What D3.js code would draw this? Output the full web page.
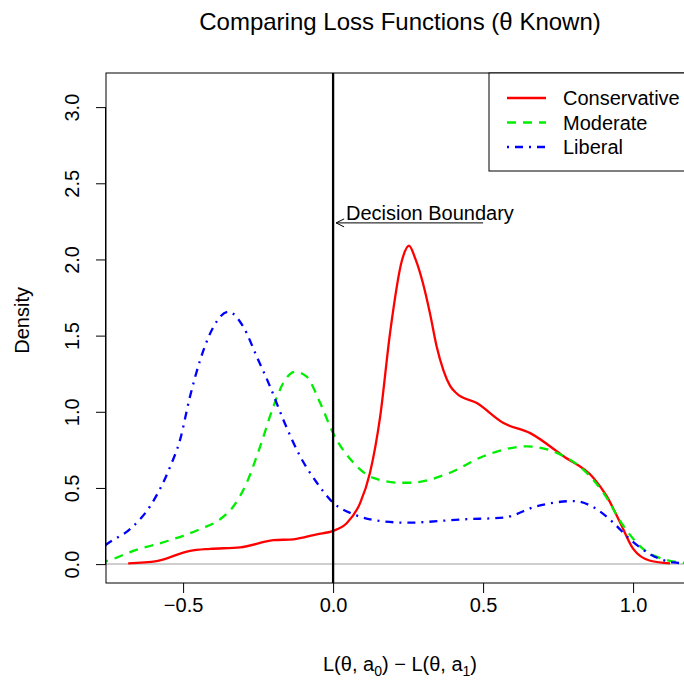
<!DOCTYPE html>
<html>
<head>
<meta charset="utf-8">
<script src="https://cdn.jsdelivr.net/npm/d3@7"></script>
<style>
  body { margin: 0; background: #fff; }
  text { font-family: "Liberation Sans", Arial, sans-serif; }
</style>
</head>
<body>
<div id="my_dataviz"></div>
<script>
// density curves: [x, density]
var conservative = [[-0.683,0.005],[-0.588,0.02],[-0.477,0.087],[-0.41,0.10],[-0.31,0.11],[-0.199,0.157],
  [-0.132,0.163],[-0.054,0.196],[0.0,0.218],[0.046,0.27],[0.09,0.40],[0.123,0.6],[0.157,0.97],[0.19,1.52],
  [0.229,1.99],[0.253,2.09],[0.275,2.0],[0.3,1.84],[0.323,1.645],[0.345,1.43],[0.368,1.27],[0.39,1.17],[0.412,1.12],
  [0.479,1.057],[0.568,0.926],[0.657,0.86],[0.768,0.708],[0.868,0.566],[0.912,0.446],[0.957,0.272],
  [1.001,0.098],[1.057,0.022],[1.123,0.005]]
var moderate = [[-0.78,0.01],[-0.755,0.02],[-0.666,0.087],[-0.555,0.15],[-0.443,0.23],[-0.377,0.294],[-0.332,0.38],
  [-0.288,0.534],[-0.243,0.773],[-0.199,1.034],[-0.166,1.19],[-0.127,1.263],[-0.088,1.23],[-0.043,1.057],
  [0.0,0.86],[0.068,0.665],[0.134,0.566],[0.223,0.534],[0.257,0.534],[0.39,0.6],[0.501,0.708],[0.646,0.773],
  [0.746,0.73],[0.834,0.62],[0.901,0.468],[0.968,0.25],[1.034,0.098],[1.101,0.033],[1.157,0.011],[1.2,0.004]]
var liberal = [[-0.78,0.09],[-0.755,0.13],[-0.677,0.23],[-0.61,0.38],[-0.543,0.64],[-0.51,0.817],[-0.477,1.1],
  [-0.443,1.34],[-0.399,1.557],[-0.349,1.656],[-0.299,1.557],[-0.254,1.36],[-0.21,1.165],[-0.166,0.948],
  [-0.11,0.708],[-0.054,0.534],[0.0,0.403],[0.068,0.327],[0.157,0.283],[0.246,0.272],[0.434,0.294],
  [0.568,0.305],[0.679,0.38],[0.801,0.414],[0.879,0.36],[0.934,0.272],[0.99,0.163],[1.057,0.065],
  [1.134,0.011],[1.2,0.003]]

var seriesNames = ["Conservative", "Moderate", "Liberal"]
var seriesColors = ["#ff0000", "#00ee00", "#0000ff"]
var seriesDash = [null, "9,7", "2,6,8,6"]
var xTicks = [-0.5, 0.0, 0.5, 1.0]
var yTicks = [0.0, 0.5, 1.0, 1.5, 2.0, 2.5, 3.0]

var margin = {top: 73, right: 0, bottom: 98, left: 106},
    width = 588,
    height = 681 - margin.top - margin.bottom;

var svg = d3.select("#my_dataviz")
  .append("svg")
    .attr("width", 684)
    .attr("height", 681)
  .append("g")
    .attr("transform", "translate(" + margin.left + "," + margin.top + ")")

var x = d3.scaleLinear().domain([-0.757, 1.203]).range([0, width])
var y = d3.scaleLinear().domain([-0.124, 3.224]).range([height, 0])

svg.append("clipPath").attr("id", "clip")
  .append("rect").attr("width", width).attr("height", height)

// gray zero line
svg.append("line")
  .attr("x1", 0).attr("x2", width)
  .attr("y1", y(0)).attr("y2", y(0))
  .attr("stroke", "#bebebe").attr("stroke-width", 1.5)

// curves
var line = d3.line()
  .x(function(d) { return x(d[0]); })
  .y(function(d) { return y(d[1]); })
  .curve(d3.curveMonotoneX)

var allSeries = [conservative, moderate, liberal]
allSeries.forEach(function(s, i) {
  svg.append("path")
    .datum(s)
    .attr("clip-path", "url(#clip)")
    .attr("fill", "none")
    .attr("stroke", seriesColors[i])
    .attr("stroke-width", 2.3)
    .attr("stroke-dasharray", seriesDash[i])
    .attr("d", line)
})

// decision boundary at 0
svg.append("line")
  .attr("x1", x(0)).attr("x2", x(0))
  .attr("y1", 0).attr("y2", height)
  .attr("stroke", "black").attr("stroke-width", 2.3)

// arrow + label
var ay = y(2.24)
svg.append("line")
  .attr("x1", x(0.5)).attr("x2", x(0.01))
  .attr("y1", ay).attr("y2", ay)
  .attr("stroke", "black").attr("stroke-width", 1)
svg.append("path")
  .attr("d", "M" + (x(0.01) + 8) + "," + (ay - 4) + "L" + x(0.01) + "," + ay + "L" + (x(0.01) + 8) + "," + (ay + 4))
  .attr("fill", "none").attr("stroke", "black").attr("stroke-width", 1)
svg.append("text")
  .attr("x", x(0.043))
  .attr("y", ay - 3)
  .style("font-size", "20px")
  .text("Decision Boundary")

// box
svg.append("rect")
  .attr("width", width).attr("height", height)
  .attr("fill", "none").attr("stroke", "black").attr("stroke-width", 1)

// axes
var xAxis = svg.append("g")
  .attr("transform", "translate(0," + height + ")")
  .call(d3.axisBottom(x).tickValues(xTicks).tickSize(10).tickPadding(5)
    .tickFormat(function(d) { return d < 0 ? "\u2212" + Math.abs(d).toFixed(1) : d.toFixed(1); }))
xAxis.select(".domain").remove()
xAxis.selectAll("text").style("font-size", "20px").attr("fill", "black")
xAxis.selectAll("line").attr("stroke", "black")

var yAxis = svg.append("g")
  .call(d3.axisLeft(y).tickValues(yTicks).tickSize(10).tickFormat(d3.format(".1f")))
yAxis.select(".domain").attr("d", "M-0.5," + y(0) + "V" + y(3))
yAxis.selectAll(".tick text")
  .style("font-size", "20px").attr("fill", "black")
  .attr("text-anchor", "middle")
  .attr("transform", "rotate(-90)")
  .attr("x", 0).attr("y", -34).attr("dy", "0.35em")
yAxis.selectAll("line, path").attr("stroke", "black")

// legend
var lg = svg.append("g").attr("transform", "translate(" + (489 - margin.left) + ",0)")
lg.append("rect").attr("width", 220).attr("height", 98)
  .attr("fill", "white").attr("stroke", "black").attr("stroke-width", 1)
seriesNames.forEach(function(n, i) {
  var ly = 25 + i * 24.5
  lg.append("line")
    .attr("x1", 18).attr("x2", 57).attr("y1", ly).attr("y2", ly)
    .attr("stroke", seriesColors[i]).attr("stroke-width", 2.3)
    .attr("stroke-dasharray", seriesDash[i])
  lg.append("text").attr("x", 74).attr("y", ly).attr("dy", "0.35em")
    .style("font-size", "20px").text(n)
})

// titles
var root = d3.select("svg")
root.append("text")
  .attr("x", margin.left + width / 2).attr("y", 30)
  .attr("text-anchor", "middle")
  .style("font-size", "24px")
  .text("Comparing Loss Functions (\u03b8 Known)")

root.append("text")
  .attr("transform", "rotate(-90)")
  .attr("x", -(margin.top + y(1.6))).attr("y", 29)
  .attr("text-anchor", "middle")
  .style("font-size", "20px")
  .text("Density")

var xl = root.append("text")
  .attr("x", margin.left + width / 2).attr("y", 671)
  .attr("text-anchor", "middle")
  .style("font-size", "20px")
xl.append("tspan").text("L(\u03b8, a")
xl.append("tspan").attr("dy", 5).style("font-size", "14px").text("0")
xl.append("tspan").attr("dy", -5).text(") \u2212 L(\u03b8, a")
xl.append("tspan").attr("dy", 5).style("font-size", "14px").text("1")
xl.append("tspan").attr("dy", -5).text(")")
</script>
</body>
</html>
